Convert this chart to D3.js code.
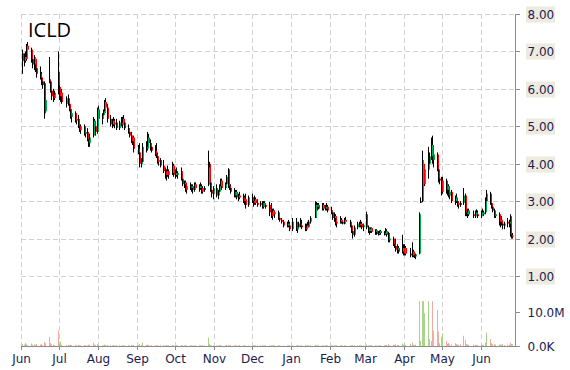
<!DOCTYPE html>
<html>
<head>
<meta charset="utf-8">
<script src="https://cdn.jsdelivr.net/npm/d3@7"></script>
<style>
body { margin: 0; background: #fff; }
text { font-family: "DejaVu Sans", Verdana, sans-serif; }
</style>
</head>
<body>
<script>
const width = 570, height = 370;

const ticker = 'ICLD';
const priceTicks = [1, 2, 3, 4, 5, 6, 7, 8];
const volumeTicks = [0, 10];
const volumeLabels = ['0.0K', '10.0M'];
const holidays = ['2014-07-04', '2014-09-01', '2014-11-27', '2014-12-25', '2015-01-01',
	'2015-01-19', '2015-02-16', '2015-04-03', '2015-05-25'];

// one row per trading day: [open, high, low, close, volume (millions)]
const jun14 = [
	[6.95,7.05,6.40,6.75,0.6],[6.75,6.95,6.60,6.85,0.4],[6.85,7.00,6.70,6.80,0.9],[6.80,7.20,6.75,7.15,0.5],
	[7.15,7.25,6.95,7.05,0.3],[7.05,7.10,6.70,6.80,0.7],[6.80,6.95,6.55,6.65,0.4],[6.65,6.90,6.50,6.85,0.5],
	[6.80,6.85,6.45,6.55,0.3],[6.55,6.70,6.30,6.40,0.6],[6.40,6.60,6.25,6.30,0.4],[6.30,6.45,6.10,6.20,0.5],
	[6.20,6.30,6.00,6.10,0.3],[6.15,6.20,5.20,5.35,1.2],[5.40,5.75,5.35,5.70,0.8],[6.25,6.85,6.15,6.20,2.7],
	[6.20,6.25,5.90,5.95,0.9],[5.95,6.10,5.70,5.80,0.5],[5.85,6.00,5.65,5.75,0.4],[5.75,5.95,5.70,5.90,0.3],
	[6.45,7.00,5.85,6.10,4.5]
];
const jul14 = [
	[6.05,6.10,5.70,5.80,0.6],[5.80,6.00,5.65,5.90,1.3],[5.90,6.00,5.60,5.65,0.4],[5.60,5.80,5.50,5.75,0.3],
	[5.75,5.85,5.55,5.60,0.3],[5.60,5.70,5.40,5.45,0.3],[5.45,5.55,5.20,5.25,0.3],[5.25,5.45,5.10,5.35,0.2],
	[5.35,5.40,5.10,5.15,0.3],[5.15,5.30,5.05,5.20,0.2],[5.20,5.30,4.95,5.00,0.3],[5.00,5.15,4.85,4.90,0.2],
	[4.90,5.05,4.80,5.00,0.2],[5.00,5.05,4.75,4.80,0.3],[4.80,4.95,4.70,4.85,0.2],[4.85,4.95,4.60,4.65,0.2],
	[4.65,4.75,4.45,4.55,0.4],[4.55,4.80,4.45,4.70,0.3],[4.75,5.25,4.70,5.15,1.0],[5.15,5.20,4.90,5.00,0.4],
	[5.00,5.10,4.75,4.85,0.3],[4.85,5.50,4.80,5.45,0.5]
];
const aug14 = [
	[5.45,5.55,5.10,5.20,0.3],[5.20,5.35,5.05,5.30,0.2],[5.30,5.45,5.20,5.40,0.2],[5.35,5.70,5.30,5.65,0.4],
	[5.65,5.75,5.45,5.50,0.3],[5.50,5.60,5.10,5.20,0.3],[5.20,5.30,5.00,5.05,0.2],[5.05,5.20,4.95,5.15,0.2],
	[5.15,5.25,5.00,5.05,0.2],[5.05,5.20,4.95,5.10,0.2],[5.10,5.20,4.90,4.95,0.2],[4.95,5.15,4.90,5.10,0.2],
	[5.10,5.25,5.00,5.05,0.2],[5.05,5.25,4.95,5.20,0.2],[5.20,5.30,5.05,5.10,0.2],[5.10,5.15,4.90,4.95,0.2],
	[4.95,5.05,4.80,4.85,0.2],[4.85,4.95,4.70,4.75,0.2],[4.75,4.85,4.55,4.60,0.3],[4.60,4.75,4.50,4.70,0.2],
	[4.70,4.75,4.30,4.40,0.3]
];
const sep14 = [
	[4.40,4.50,4.25,4.30,0.3],[4.30,4.55,3.90,4.00,0.6],[4.00,4.15,3.90,4.05,0.3],[4.05,4.55,4.00,4.45,1.0],
	[4.45,4.60,4.30,4.40,0.3],[4.40,4.85,4.35,4.70,0.4],[4.70,4.80,4.45,4.55,0.3],[4.55,4.65,4.35,4.45,0.2],
	[4.45,4.55,4.30,4.35,0.2],[4.35,4.50,4.20,4.25,0.2],[4.25,4.55,4.15,4.20,0.2],[4.20,4.30,4.00,4.05,0.2],
	[4.05,4.15,3.95,4.10,0.2],[4.10,4.15,3.90,3.95,0.2],[3.95,4.10,3.75,3.80,0.2],[3.80,3.90,3.60,3.70,0.2],
	[3.70,3.85,3.55,3.80,0.2],[3.80,3.95,3.65,3.70,0.2],[3.70,3.85,3.60,3.80,0.2],[3.75,4.05,3.70,3.95,0.3],
	[3.95,4.00,3.65,3.70,0.2]
];
const oct14 = [
	[3.70,3.85,3.60,3.75,0.2],[3.75,3.90,3.65,3.70,0.2],[3.70,3.80,3.60,3.75,0.2],[3.80,3.90,3.55,3.60,0.3],
	[3.60,3.70,3.40,3.45,0.2],[3.45,3.55,3.35,3.50,0.2],[3.50,3.55,3.25,3.30,0.2],[3.30,3.45,3.20,3.40,0.2],
	[3.40,3.50,3.30,3.35,0.2],[3.35,3.45,3.25,3.40,0.2],[3.40,3.45,3.20,3.30,0.2],[3.30,3.50,3.25,3.45,0.2],
	[3.45,3.50,3.30,3.35,0.2],[3.35,3.45,3.25,3.40,0.2],[3.40,3.50,3.30,3.35,0.2],[3.35,3.45,3.20,3.25,0.2],
	[3.25,3.40,3.20,3.35,0.2],[3.35,3.40,3.25,3.30,0.2],[3.45,4.35,3.40,3.90,2.5],[4.00,4.05,3.45,3.50,0.6],
	[3.50,3.55,3.25,3.30,0.3],[3.30,3.45,3.10,3.20,0.2],[3.20,3.40,3.05,3.35,0.2]
];
const nov14 = [
	[3.35,3.45,3.10,3.15,0.2],[3.15,3.30,3.05,3.25,0.2],[3.25,3.45,3.20,3.40,0.2],[3.40,3.60,3.35,3.55,0.2],
	[3.55,3.60,3.30,3.35,0.2],[3.35,3.50,3.30,3.45,0.2],[3.45,3.70,3.40,3.65,0.3],[3.85,3.88,3.35,3.40,0.3],
	[3.40,3.55,3.30,3.35,0.2],[3.35,3.45,3.20,3.25,0.2],[3.25,3.35,3.10,3.15,0.2],[3.15,3.30,3.10,3.25,0.2],
	[3.25,3.30,3.05,3.10,0.2],[3.10,3.20,3.00,3.15,0.2],[3.15,3.25,3.05,3.10,0.2],[3.10,3.20,2.95,3.00,0.2],
	[3.00,3.15,2.90,3.05,0.2],[3.05,3.20,2.80,2.90,0.2],[2.90,3.15,2.85,3.10,0.1]
];
const dec14 = [
	[3.10,3.20,2.95,3.00,0.2],[3.00,3.10,2.85,2.95,0.2],[2.95,3.15,2.90,3.05,0.2],[3.05,3.10,2.90,2.95,0.2],
	[2.95,3.05,2.85,2.90,0.2],[2.90,3.00,2.85,2.95,0.2],[2.95,3.00,2.80,2.85,0.2],[2.85,3.00,2.80,2.95,0.2],
	[2.95,3.00,2.85,2.90,0.2],[2.90,2.95,2.80,2.85,0.2],[2.90,2.98,2.60,2.70,0.2],[2.70,2.95,2.55,2.60,0.2],
	[2.60,2.80,2.50,2.75,0.2],[2.75,2.80,2.60,2.65,0.2],[2.65,2.75,2.55,2.70,0.2],[2.70,2.75,2.50,2.55,0.2],
	[2.55,2.65,2.45,2.50,0.2],[2.50,2.55,2.40,2.45,0.1],[2.45,2.50,2.30,2.35,0.1],[2.35,2.45,2.30,2.40,0.2],
	[2.40,2.50,2.30,2.35,0.2],[2.35,2.45,2.20,2.25,0.2]
];
const jan15 = [
	[2.25,2.55,2.20,2.45,0.2],[2.45,2.55,2.20,2.25,0.2],[2.25,2.35,2.15,2.30,0.2],[2.30,2.45,2.25,2.40,0.2],
	[2.40,2.55,2.30,2.35,0.2],[2.35,2.50,2.25,2.30,0.2],[2.30,2.40,2.20,2.25,0.2],[2.25,2.40,2.20,2.35,0.2],
	[2.35,2.45,2.25,2.30,0.2],[2.30,2.50,2.30,2.45,0.2],[2.45,2.60,2.40,2.55,0.2],[2.55,3.00,2.55,2.90,0.4],
	[2.90,2.98,2.80,2.85,0.2],[2.85,2.95,2.75,2.90,0.2],[2.90,2.95,2.78,2.80,0.2],[2.80,2.95,2.75,2.90,0.2],
	[2.90,2.95,2.75,2.80,0.2],[2.80,2.90,2.75,2.85,0.2],[2.85,2.95,2.75,2.80,0.2],[2.85,2.90,2.70,2.75,0.2]
];
const feb15 = [
	[2.75,2.85,2.65,2.70,0.2],[2.70,2.75,2.50,2.55,0.2],[2.55,2.70,2.45,2.60,0.2],[2.60,2.65,2.35,2.40,0.2],
	[2.40,2.55,2.30,2.45,0.2],[2.45,2.60,2.40,2.50,0.2],[2.50,2.55,2.40,2.45,0.2],[2.45,2.50,2.38,2.40,0.2],
	[2.40,2.55,2.38,2.50,0.2],[2.50,2.58,2.40,2.45,0.2],[2.45,2.50,2.30,2.35,0.2],[2.35,2.40,2.15,2.20,0.2],
	[2.20,2.30,2.00,2.10,0.3],[2.10,2.35,2.05,2.30,0.2],[2.30,2.45,2.25,2.40,0.2],[2.40,2.45,2.30,2.35,0.2],
	[2.35,2.50,2.30,2.40,0.2],[2.40,2.45,2.25,2.30,0.2],[2.30,2.40,2.20,2.35,0.2]
];
const mar15 = [
	[2.65,2.72,2.25,2.30,0.4],[2.30,2.35,2.15,2.20,0.2],[2.20,2.30,2.10,2.25,0.2],[2.20,2.30,2.15,2.28,0.2],
	[2.28,2.30,2.15,2.18,0.2],[2.18,2.25,2.10,2.22,0.2],[2.22,2.25,2.10,2.12,0.2],[2.12,2.20,2.08,2.15,0.2],
	[2.15,2.22,2.10,2.20,0.2],[2.20,2.23,2.10,2.15,0.2],[2.15,2.20,2.08,2.12,0.2],[2.12,2.28,2.10,2.20,0.3],
	[2.20,2.25,2.05,2.10,0.3],[2.15,2.18,1.90,1.95,0.5],[1.95,2.05,1.90,2.00,0.3],[2.00,2.05,1.80,1.85,0.4],
	[1.85,1.95,1.75,1.80,0.3],[1.80,2.00,1.65,1.70,0.5],[1.70,1.85,1.60,1.75,0.3],[1.75,1.80,1.60,1.65,0.3],
	[1.65,2.10,1.60,1.75,0.7],[1.75,1.85,1.55,1.60,0.4]
];
const apr15 = [
	[1.60,1.85,1.55,1.75,0.4],[1.75,1.80,1.55,1.60,0.3],[1.60,1.75,1.50,1.55,0.6],[1.55,1.90,1.50,1.65,1.0],
	[1.65,1.70,1.50,1.55,0.4],[1.55,1.65,1.48,1.52,0.3],[1.52,1.60,1.45,1.58,0.4],[1.60,2.70,1.58,2.65,13.3],
	[2.95,3.10,2.95,3.00,1.5],[3.00,4.35,2.97,4.10,13.3],[4.00,4.10,3.35,3.45,13.3],[3.45,3.95,3.40,3.85,9.6],
	[3.85,4.45,3.60,4.00,13.3],[4.00,4.30,3.85,4.20,2.0],[4.20,4.70,4.10,4.50,1.5],[4.50,4.75,4.00,4.10,13.3],
	[4.10,4.40,3.90,4.25,4.5],[4.25,4.30,3.80,3.85,10.6],[3.85,3.95,3.50,3.60,4.2],[3.60,3.75,3.45,3.55,0.8],
	[3.55,3.65,3.15,3.25,2.7]
];
const may15 = [
	[3.25,3.65,3.20,3.55,3.7],[3.55,3.60,3.20,3.30,1.5],[3.30,3.45,3.15,3.40,0.6],[3.40,3.45,3.10,3.15,0.9],
	[3.15,3.35,3.05,3.25,0.5],[3.25,3.30,2.95,3.00,0.5],[3.00,3.15,2.90,3.10,0.8],[3.10,3.20,2.95,3.00,0.6],
	[3.00,3.05,2.85,2.90,0.4],[2.90,3.00,2.80,2.95,0.4],[2.95,3.00,2.85,2.90,0.5],[2.95,3.35,2.90,3.15,3.0],
	[3.15,3.20,2.60,2.70,1.8],[2.70,2.80,2.60,2.65,0.6],[2.65,2.80,2.55,2.75,0.5],[2.75,2.80,2.60,2.65,0.3],
	[2.65,2.75,2.55,2.60,0.4],[2.60,2.75,2.55,2.70,0.3],[2.70,2.78,2.60,2.65,0.3],[2.65,2.75,2.55,2.60,0.3]
];
const jun15 = [
	[2.60,2.75,2.55,2.70,0.3],[2.70,2.80,2.60,2.65,0.3],[2.65,2.75,2.60,2.70,0.4],[2.70,3.10,2.65,3.00,1.0],
	[3.00,3.30,2.90,3.20,3.9],[3.20,3.25,2.90,2.95,2.0],[2.95,3.00,2.80,2.85,0.8],[2.85,2.90,2.70,2.75,0.5],
	[2.75,2.80,2.55,2.60,0.5],[2.60,2.70,2.55,2.65,0.4],[2.65,2.70,2.35,2.45,0.3],[2.45,2.55,2.30,2.50,0.5],
	[2.50,2.60,2.35,2.40,0.4],[2.40,2.50,2.25,2.35,0.6],[2.35,2.45,2.25,2.40,0.3],[2.45,2.55,2.30,2.40,0.4],
	[2.40,2.50,2.30,2.45,0.3],[2.60,2.65,2.05,2.10,0.9],[2.10,2.15,2.00,2.05,0.6],[2.05,2.15,2.00,2.08,0.5]
];

const monthRows = [jun14, jul14, aug14, sep14, oct14, nov14, dec14, jan15, feb15, mar15, apr15, may15, jun15];
const firstMonth = new Date(2014, 5, 1);
const fmtDay = d3.timeFormat('%Y-%m-%d');

// pair each month's rows with that month's trading days
const candles = [];
monthRows.forEach((rows, i) => {
	const m0 = d3.timeMonth.offset(firstMonth, i), m1 = d3.timeMonth.offset(firstMonth, i + 1);
	const days = d3.timeDay.range(m0, m1)
		.filter(d => d.getDay() % 6 !== 0 && !holidays.includes(fmtDay(d)));
	rows.forEach((r, j) => {
		if (days[j]) candles.push({ date: days[j], open: r[0], high: r[1], low: r[2], close: r[3], vol: r[4] });
	});
});

const plotLeft = 21, plotRight = 515, plotTop = 14, plotBottom = 346;

const x = d3.scaleTime()
	.domain([new Date(2014, 5, 1), new Date(2015, 5, 28)])
	.range([plotLeft, plotRight]);

const y = d3.scaleLinear().domain([1, 8]).range([276, plotTop]);

const yVol = d3.scaleLinear().domain([0, 13.2]).range([plotBottom, 301.1]).clamp(true);

const monthTicks = d3.timeMonth.range(new Date(2014, 5, 1), new Date(2015, 6, 1));

const svg = d3.select('body').append('svg')
	.attr('width', width)
	.attr('height', height)
	.style('display', 'block');

// grid
svg.append('g').selectAll('line')
	.data(monthTicks)
	.join('line')
	.attr('x1', d => Math.round(x(d)) + 0.5).attr('x2', d => Math.round(x(d)) + 0.5)
	.attr('y1', plotTop).attr('y2', plotBottom)
	.attr('stroke', '#d2d2d2').attr('stroke-dasharray', '5,3');

svg.append('g').selectAll('line')
	.data(priceTicks)
	.join('line')
	.attr('x1', plotLeft).attr('x2', plotRight)
	.attr('y1', d => Math.round(y(d)) + 0.5).attr('y2', d => Math.round(y(d)) + 0.5)
	.attr('stroke', '#d2d2d2').attr('stroke-dasharray', '5,3');

// volume
const volColor = d => d.close > d.open ? '#a9d48c' : d.close < d.open ? '#f2ab9c' : '#b4b0dc';
svg.append('g').selectAll('rect')
	.data(candles)
	.join('rect')
	.attr('x', d => Math.round(x(d.date)))
	.attr('width', 1)
	.attr('y', d => yVol(d.vol))
	.attr('height', d => plotBottom - yVol(d.vol))
	.attr('fill', volColor);

// candles: wicks first, bodies on top one pixel to the right
const cx = d => Math.round(x(d.date));

svg.append('g').selectAll('line')
	.data(candles)
	.join('line')
	.attr('x1', d => cx(d) + 0.5).attr('x2', d => cx(d) + 0.5)
	.attr('y1', d => y(d.high))
	.attr('y2', d => y(d.low))
	.attr('stroke', '#000')
	.attr('stroke-width', 1);

svg.append('g').selectAll('rect')
	.data(candles)
	.join('rect')
	.attr('x', d => cx(d) + 1)
	.attr('width', 1)
	.attr('y', d => y(Math.max(d.open, d.close)))
	.attr('height', d => Math.max(1, Math.abs(y(d.open) - y(d.close))))
	.attr('fill', d => d.close >= d.open ? '#00b050' : '#ff0000');

// axes
svg.append('line')
	.attr('x1', plotRight + 0.5).attr('x2', plotRight + 0.5)
	.attr('y1', plotTop).attr('y2', plotBottom + 0.5)
	.attr('stroke', '#8c8c8c');

svg.append('line')
	.attr('x1', plotLeft).attr('x2', plotRight + 1)
	.attr('y1', plotBottom + 0.5).attr('y2', plotBottom + 0.5)
	.attr('stroke', '#8c8c8c');

const priceTick = svg.append('g').selectAll('g')
	.data(priceTicks)
	.join('g')
	.attr('transform', d => `translate(0,${Math.round(y(d)) + 0.5})`);

priceTick.append('line')
	.attr('x1', plotRight).attr('x2', plotRight + 5)
	.attr('stroke', '#8c8c8c');

priceTick.append('rect')
	.attr('x', 526).attr('y', -8)
	.attr('width', 29).attr('height', 16)
	.attr('fill', '#edeae0');

priceTick.append('text')
	.attr('x', 527.5).attr('y', 4.5)
	.attr('font-size', 12)
	.attr('fill', '#1c1c50')
	.text(d => d3.format('.2f')(d));

const volTick = svg.append('g').selectAll('g')
	.data(volumeTicks)
	.join('g')
	.attr('transform', d => `translate(0,${Math.round(yVol(d)) + 0.5})`);

volTick.append('line')
	.attr('x1', plotRight).attr('x2', plotRight + 5)
	.attr('stroke', '#8c8c8c');

volTick.append('text')
	.attr('x', 527.5).attr('y', 4.5)
	.attr('font-size', 12)
	.attr('fill', '#1c1c50')
	.text((d, i) => volumeLabels[i]);

const monthTick = svg.append('g').selectAll('g')
	.data(monthTicks)
	.join('g')
	.attr('transform', d => `translate(${Math.round(x(d)) + 0.5},0)`);

monthTick.append('line')
	.attr('y1', plotBottom).attr('y2', plotBottom + 4)
	.attr('stroke', '#8c8c8c');

monthTick.append('text')
	.attr('y', 363)
	.attr('text-anchor', 'middle')
	.attr('font-size', 12)
	.attr('fill', '#1c1c50')
	.text(d3.timeFormat('%b'));

// title
svg.append('text')
	.attr('x', 28).attr('y', 37)
	.style('font-family', '"Open Sans", sans-serif')
	.attr('font-size', 20)
	.attr('fill', '#000')
	.text(ticker);
</script>
</body>
</html>
